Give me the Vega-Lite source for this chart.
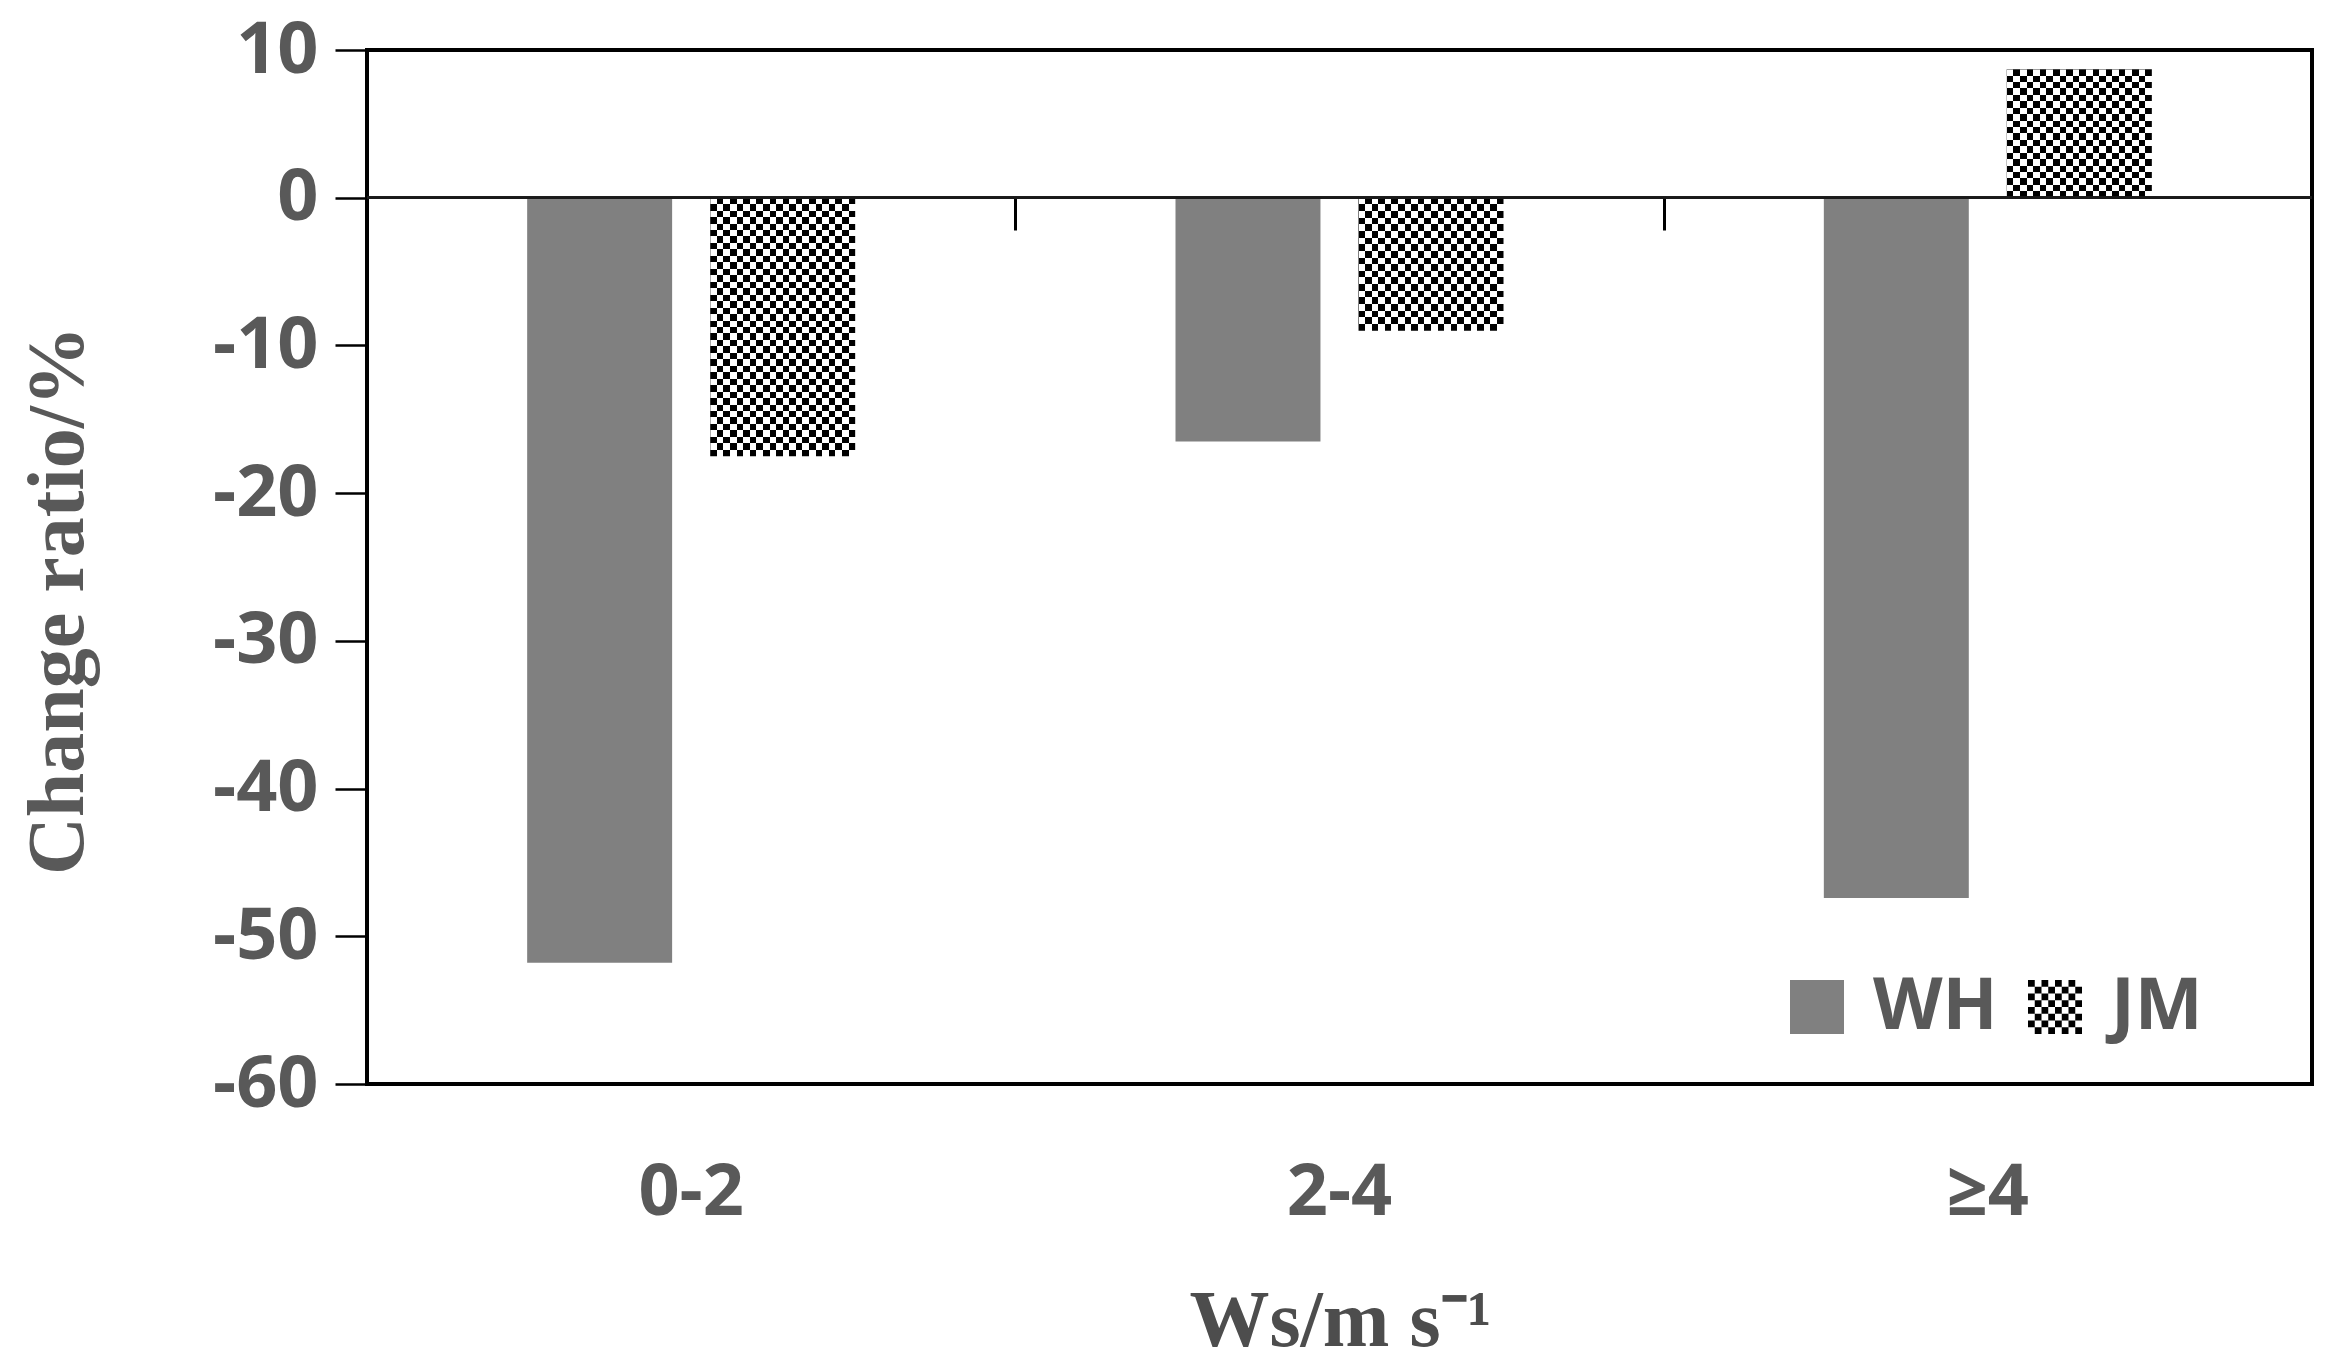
{
  "$schema": "https://vega.github.io/schema/vega-lite/v6.json",
  "autosize": {"type": "none"},
  "width": 1945,
  "height": 1034,
  "padding": {"left": 367, "top": 50, "right": 27, "bottom": 283},
  "background": "#ffffff",
  "config": {
    "view": {"stroke": "#000000", "strokeWidth": 4},
    "axis": {"grid": false},
    "legend": {
      "orient": "none", "legendX": 1414, "legendY": 921, "direction": "horizontal",
      "padding": 0, "symbolSize": 2916, "symbolStrokeWidth": 0, "symbolOpacity": 1,
      "labelOffset": 20, "columnPadding": 21,
      "labelFont": "Open Sans", "labelFontWeight": "bold", "labelFontSize": 72, "labelColor": "#595959"
    }
  },
  "data": {
    "values": [
      {"cat": "0-2", "series": "WH", "value": -51.8},
      {"cat": "0-2", "series": "JM", "value": -17.5},
      {"cat": "2-4", "series": "WH", "value": -16.5},
      {"cat": "2-4", "series": "JM", "value": -9.0},
      {"cat": "≥4", "series": "WH", "value": -47.4},
      {"cat": "≥4", "series": "JM", "value": 8.7}
    ]
  },
  "resolve": {"axis": {"x": "independent"}},
  "layer": [
    {
      "mark": {"type": "bar", "strokeWidth": 0},
      "encoding": {
        "x": {
          "field": "cat", "type": "nominal", "sort": ["0-2", "2-4", "≥4"],
          "scale": {"paddingInner": 0, "paddingOuter": 0},
          "axis": {
            "orient": "bottom", "domain": false, "ticks": false, "tickSize": 0,
            "labelAngle": 0, "labelPadding": 108, "labelBaseline": "middle",
            "labelFont": "Open Sans", "labelFontWeight": "bold", "labelFontSize": 72, "labelColor": "#595959",
            "title": "Ws/m s⁻¹", "titleFont": "Liberation Serif", "titleFontWeight": "bold", "titleFontSize": 80,
            "titleColor": "#4d4d4d", "titleX": 973, "titleY": 261, "titleBaseline": "alphabetic", "titleAlign": "center"
          }
        },
        "xOffset": {"field": "series", "type": "nominal", "scale": {"domain": ["WH", "JM"], "paddingInner": 0.208, "paddingOuter": 0.875}},
        "y": {
          "field": "value", "type": "quantitative",
          "scale": {"domain": [-60, 10], "nice": false, "zero": false},
          "axis": {
            "values": [-60, -50, -40, -30, -20, -10, 0, 10],
            "domain": false, "ticks": true, "tickSize": 32, "tickWidth": 2.5, "tickColor": "#000000",
            "labelPadding": 17, "labelFont": "Open Sans", "labelFontWeight": "bold", "labelFontSize": 72, "labelColor": "#595959",
            "labelExpr": "datum.value < 0 ? '-' + abs(datum.value) : '' + datum.value",
            "labelOverlap": false, "labelBound": false, "labelFlush": false,
            "title": "Change ratio/%", "titleFont": "Liberation Serif", "titleFontWeight": "bold", "titleFontSize": 80,
            "titleColor": "#595959", "titleX": -285, "titleY": 550, "titleBaseline": "alphabetic", "titleAlign": "center", "titleAngle": -90
          }
        },
        "color": {
          "condition": {
            "test": "datum.series === 'JM'",
            "value": {
              "gradient": "linear", "x1": 0, "y1": 0, "x2": 1, "y2": 0,
              "stops": [
                {"offset": 0, "color": "#000"}, {"offset": 0.04545, "color": "#000"},
                {"offset": 0.04545, "color": "#fff"}, {"offset": 0.09091, "color": "#fff"},
                {"offset": 0.09091, "color": "#000"}, {"offset": 0.13636, "color": "#000"},
                {"offset": 0.13636, "color": "#fff"}, {"offset": 0.18182, "color": "#fff"},
                {"offset": 0.18182, "color": "#000"}, {"offset": 0.22727, "color": "#000"},
                {"offset": 0.22727, "color": "#fff"}, {"offset": 0.27273, "color": "#fff"},
                {"offset": 0.27273, "color": "#000"}, {"offset": 0.31818, "color": "#000"},
                {"offset": 0.31818, "color": "#fff"}, {"offset": 0.36364, "color": "#fff"},
                {"offset": 0.36364, "color": "#000"}, {"offset": 0.40909, "color": "#000"},
                {"offset": 0.40909, "color": "#fff"}, {"offset": 0.45455, "color": "#fff"},
                {"offset": 0.45455, "color": "#000"}, {"offset": 0.5, "color": "#000"},
                {"offset": 0.5, "color": "#fff"}, {"offset": 0.54545, "color": "#fff"},
                {"offset": 0.54545, "color": "#000"}, {"offset": 0.59091, "color": "#000"},
                {"offset": 0.59091, "color": "#fff"}, {"offset": 0.63636, "color": "#fff"},
                {"offset": 0.63636, "color": "#000"}, {"offset": 0.68182, "color": "#000"},
                {"offset": 0.68182, "color": "#fff"}, {"offset": 0.72727, "color": "#fff"},
                {"offset": 0.72727, "color": "#000"}, {"offset": 0.77273, "color": "#000"},
                {"offset": 0.77273, "color": "#fff"}, {"offset": 0.81818, "color": "#fff"},
                {"offset": 0.81818, "color": "#000"}, {"offset": 0.86364, "color": "#000"},
                {"offset": 0.86364, "color": "#fff"}, {"offset": 0.90909, "color": "#fff"},
                {"offset": 0.90909, "color": "#000"}, {"offset": 0.95455, "color": "#000"},
                {"offset": 0.95455, "color": "#fff"}, {"offset": 1, "color": "#fff"}
              ]
            }
          },
          "field": "series", "type": "nominal",
          "scale": {"domain": ["WH", "JM"], "range": ["#808080", "#000000"]},
          "legend": {"title": null}
        }
      }
    },
    {
      "transform": [{"filter": "datum.series === 'JM'"}],
      "mark": {"type": "bar", "blend": "difference", "strokeWidth": 0},
      "encoding": {
        "x": {
          "field": "cat", "type": "nominal", "sort": ["0-2", "2-4", "≥4"],
          "axis": {
            "orient": "bottom", "offset": -886, "labels": false, "domain": false, "ticks": true,
            "tickBand": "extent", "tickSize": 32, "tickWidth": 3, "tickColor": "#000000", "title": null
          }
        },
        "xOffset": {"field": "series", "type": "nominal"},
        "y": {"field": "value", "type": "quantitative"},
        "fill": {
          "condition": {
            "test": "datum.cat === '0-2'",
            "value": {
              "gradient": "linear", "x1": 0, "y1": 0, "x2": 0, "y2": 1,
              "stops": [
                {"offset": 0, "color": "#fff"}, {"offset": 0.025, "color": "#fff"},
                {"offset": 0.025, "color": "#000"}, {"offset": 0.05, "color": "#000"},
                {"offset": 0.05, "color": "#fff"}, {"offset": 0.075, "color": "#fff"},
                {"offset": 0.075, "color": "#000"}, {"offset": 0.1, "color": "#000"},
                {"offset": 0.1, "color": "#fff"}, {"offset": 0.125, "color": "#fff"},
                {"offset": 0.125, "color": "#000"}, {"offset": 0.15, "color": "#000"},
                {"offset": 0.15, "color": "#fff"}, {"offset": 0.175, "color": "#fff"},
                {"offset": 0.175, "color": "#000"}, {"offset": 0.2, "color": "#000"},
                {"offset": 0.2, "color": "#fff"}, {"offset": 0.225, "color": "#fff"},
                {"offset": 0.225, "color": "#000"}, {"offset": 0.25, "color": "#000"},
                {"offset": 0.25, "color": "#fff"}, {"offset": 0.275, "color": "#fff"},
                {"offset": 0.275, "color": "#000"}, {"offset": 0.3, "color": "#000"},
                {"offset": 0.3, "color": "#fff"}, {"offset": 0.325, "color": "#fff"},
                {"offset": 0.325, "color": "#000"}, {"offset": 0.35, "color": "#000"},
                {"offset": 0.35, "color": "#fff"}, {"offset": 0.375, "color": "#fff"},
                {"offset": 0.375, "color": "#000"}, {"offset": 0.4, "color": "#000"},
                {"offset": 0.4, "color": "#fff"}, {"offset": 0.425, "color": "#fff"},
                {"offset": 0.425, "color": "#000"}, {"offset": 0.45, "color": "#000"},
                {"offset": 0.45, "color": "#fff"}, {"offset": 0.475, "color": "#fff"},
                {"offset": 0.475, "color": "#000"}, {"offset": 0.5, "color": "#000"},
                {"offset": 0.5, "color": "#fff"}, {"offset": 0.525, "color": "#fff"},
                {"offset": 0.525, "color": "#000"}, {"offset": 0.55, "color": "#000"},
                {"offset": 0.55, "color": "#fff"}, {"offset": 0.575, "color": "#fff"},
                {"offset": 0.575, "color": "#000"}, {"offset": 0.6, "color": "#000"},
                {"offset": 0.6, "color": "#fff"}, {"offset": 0.625, "color": "#fff"},
                {"offset": 0.625, "color": "#000"}, {"offset": 0.65, "color": "#000"},
                {"offset": 0.65, "color": "#fff"}, {"offset": 0.675, "color": "#fff"},
                {"offset": 0.675, "color": "#000"}, {"offset": 0.7, "color": "#000"},
                {"offset": 0.7, "color": "#fff"}, {"offset": 0.725, "color": "#fff"},
                {"offset": 0.725, "color": "#000"}, {"offset": 0.75, "color": "#000"},
                {"offset": 0.75, "color": "#fff"}, {"offset": 0.775, "color": "#fff"},
                {"offset": 0.775, "color": "#000"}, {"offset": 0.8, "color": "#000"},
                {"offset": 0.8, "color": "#fff"}, {"offset": 0.825, "color": "#fff"},
                {"offset": 0.825, "color": "#000"}, {"offset": 0.85, "color": "#000"},
                {"offset": 0.85, "color": "#fff"}, {"offset": 0.875, "color": "#fff"},
                {"offset": 0.875, "color": "#000"}, {"offset": 0.9, "color": "#000"},
                {"offset": 0.9, "color": "#fff"}, {"offset": 0.925, "color": "#fff"},
                {"offset": 0.925, "color": "#000"}, {"offset": 0.95, "color": "#000"},
                {"offset": 0.95, "color": "#fff"}, {"offset": 0.975, "color": "#fff"},
                {"offset": 0.975, "color": "#000"}, {"offset": 1, "color": "#000"}
              ]
            }
          },
          "value": {
            "gradient": "linear", "x1": 0, "y1": 0, "x2": 0, "y2": 1,
            "stops": [
              {"offset": 0, "color": "#fff"}, {"offset": 0.05, "color": "#fff"},
              {"offset": 0.05, "color": "#000"}, {"offset": 0.1, "color": "#000"},
              {"offset": 0.1, "color": "#fff"}, {"offset": 0.15, "color": "#fff"},
              {"offset": 0.15, "color": "#000"}, {"offset": 0.2, "color": "#000"},
              {"offset": 0.2, "color": "#fff"}, {"offset": 0.25, "color": "#fff"},
              {"offset": 0.25, "color": "#000"}, {"offset": 0.3, "color": "#000"},
              {"offset": 0.3, "color": "#fff"}, {"offset": 0.35, "color": "#fff"},
              {"offset": 0.35, "color": "#000"}, {"offset": 0.4, "color": "#000"},
              {"offset": 0.4, "color": "#fff"}, {"offset": 0.45, "color": "#fff"},
              {"offset": 0.45, "color": "#000"}, {"offset": 0.5, "color": "#000"},
              {"offset": 0.5, "color": "#fff"}, {"offset": 0.55, "color": "#fff"},
              {"offset": 0.55, "color": "#000"}, {"offset": 0.6, "color": "#000"},
              {"offset": 0.6, "color": "#fff"}, {"offset": 0.65, "color": "#fff"},
              {"offset": 0.65, "color": "#000"}, {"offset": 0.7, "color": "#000"},
              {"offset": 0.7, "color": "#fff"}, {"offset": 0.75, "color": "#fff"},
              {"offset": 0.75, "color": "#000"}, {"offset": 0.8, "color": "#000"},
              {"offset": 0.8, "color": "#fff"}, {"offset": 0.85, "color": "#fff"},
              {"offset": 0.85, "color": "#000"}, {"offset": 0.9, "color": "#000"},
              {"offset": 0.9, "color": "#fff"}, {"offset": 0.95, "color": "#fff"},
              {"offset": 0.95, "color": "#000"}, {"offset": 1, "color": "#000"}
            ]
          }
        }
      }
    },
    {
      "mark": {"type": "rule", "color": "#1a1a1a", "strokeWidth": 2.5},
      "encoding": {"y": {"datum": 0, "type": "quantitative"}}
    },
    {
      "mark": {"type": "point", "filled": true, "opacity": 0},
      "encoding": {
        "x": {"field": "cat", "type": "nominal", "sort": ["0-2", "2-4", "≥4"], "axis": null},
        "xOffset": {"field": "series", "type": "nominal"},
        "y": {"field": "value", "type": "quantitative"},
        "color": {"field": "series", "type": "nominal", "legend": {"title": null}},
        "shape": {
          "field": "series", "type": "nominal",
          "scale": {
            "domain": ["WH", "JM"],
            "range": [
              "square",
              "M-1,-1h0.25v0.25h-0.25zM-0.5,-1h0.25v0.25h-0.25zM0,-1h0.25v0.25h-0.25zM0.5,-1h0.25v0.25h-0.25zM-0.75,-0.75h0.25v0.25h-0.25zM-0.25,-0.75h0.25v0.25h-0.25zM0.25,-0.75h0.25v0.25h-0.25zM0.75,-0.75h0.25v0.25h-0.25zM-1,-0.5h0.25v0.25h-0.25zM-0.5,-0.5h0.25v0.25h-0.25zM0,-0.5h0.25v0.25h-0.25zM0.5,-0.5h0.25v0.25h-0.25zM-0.75,-0.25h0.25v0.25h-0.25zM-0.25,-0.25h0.25v0.25h-0.25zM0.25,-0.25h0.25v0.25h-0.25zM0.75,-0.25h0.25v0.25h-0.25zM-1,0h0.25v0.25h-0.25zM-0.5,0h0.25v0.25h-0.25zM0,0h0.25v0.25h-0.25zM0.5,0h0.25v0.25h-0.25zM-0.75,0.25h0.25v0.25h-0.25zM-0.25,0.25h0.25v0.25h-0.25zM0.25,0.25h0.25v0.25h-0.25zM0.75,0.25h0.25v0.25h-0.25zM-1,0.5h0.25v0.25h-0.25zM-0.5,0.5h0.25v0.25h-0.25zM0,0.5h0.25v0.25h-0.25zM0.5,0.5h0.25v0.25h-0.25zM-0.75,0.75h0.25v0.25h-0.25zM-0.25,0.75h0.25v0.25h-0.25zM0.25,0.75h0.25v0.25h-0.25zM0.75,0.75h0.25v0.25h-0.25z"
            ]
          },
          "legend": {"title": null}
        }
      }
    }
  ]
}
